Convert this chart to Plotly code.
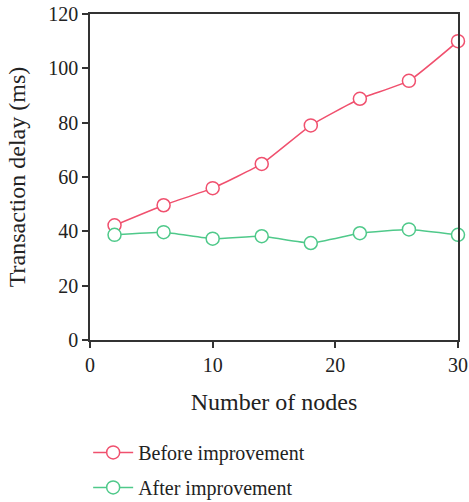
import plotly.graph_objects as go

nodes = [2, 6, 10, 14, 18, 22, 26, 30]
before = [42.2, 49.6, 55.9, 64.8, 79.0, 88.8, 95.4, 110.0]
after = [38.7, 39.7, 37.3, 38.2, 35.7, 39.3, 40.7, 38.7]

red = "#f0506e"
green = "#4fc98a"
font_family = "Liberation Serif, DejaVu Serif, serif"

fig = go.Figure()
fig.add_trace(go.Scatter(
    x=nodes, y=before, name="Before improvement", mode="lines+markers",
    legendgroup="a",
    line=dict(color=red, width=1.5, shape="spline", smoothing=0.4),
    marker=dict(symbol="circle", size=13, color="white", line=dict(color=red, width=1.5)),
    cliponaxis=False,
))
fig.add_trace(go.Scatter(
    x=nodes, y=after, name="After improvement", mode="lines+markers",
    legendgroup="b",
    line=dict(color=green, width=1.5, shape="spline", smoothing=0.4),
    marker=dict(symbol="circle", size=13, color="white", line=dict(color=green, width=1.5)),
    cliponaxis=False,
))

fig.update_layout(
    width=469, height=502,
    margin=dict(l=90, r=11, t=14, b=162, autoexpand=False),
    paper_bgcolor="white", plot_bgcolor="white",
    font=dict(family=font_family, size=20, color="#222"),
    showlegend=True,
    legend=dict(
        x=-0.005, y=-0.285, xanchor="left", yanchor="top",
        orientation="v", font=dict(size=20), tracegroupgap=6,
        traceorder="grouped",
        itemwidth=40, bgcolor="rgba(0,0,0,0)",
    ),
    xaxis=dict(
        range=[0, 30], tickvals=[0, 10, 20, 30], showgrid=False, zeroline=False,
        showline=True, linecolor="#333", linewidth=1.5, mirror=True,
        ticks="outside", ticklen=6, tickwidth=1.5, tickcolor="#333",
        automargin=False,
        title=dict(text="Number of nodes", standoff=18),
    ),
    yaxis=dict(
        range=[0, 120], tickvals=[0, 20, 40, 60, 80, 100, 120], showgrid=False, zeroline=False,
        showline=True, linecolor="#333", linewidth=1.5, mirror=True,
        ticks="outside", ticklen=6, tickwidth=1.5, tickcolor="#333",
        automargin=False,
        title=dict(text="Transaction delay (ms)", standoff=16),
    ),
)

fig.write_html("out.html")
